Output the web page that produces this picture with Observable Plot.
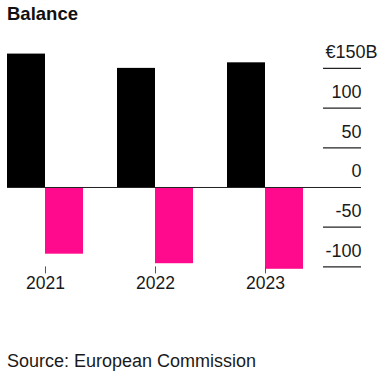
<!DOCTYPE html>
<html>
<head>
<meta charset="utf-8">
<script src="https://cdn.jsdelivr.net/npm/d3@7"></script>
<script src="https://cdn.jsdelivr.net/npm/@observablehq/plot@0.6"></script>
<style>
  html, body { margin: 0; padding: 0; background: #fff; }
  body { width: 384px; height: 376px; position: relative; overflow: hidden;
         font-family: "Liberation Sans", Arial, Helvetica, sans-serif; color: #1a1a1a; }
  #title { position: absolute; left: 7px; top: 0; font-size: 18.5px; font-weight: 700;
           line-height: 24px; padding-top: 2px; color: #111; }
  #chart { position: absolute; left: 0; top: 30px; }
  #source { position: absolute; left: 7px; top: 351px; font-size: 18px; line-height: 20px; color: #1a1a1a; }
</style>
</head>
<body>
<div id="title">Balance</div>
<div id="chart"></div>
<div id="source">Source: European Commission</div>
<script>
const years = ["2021", "2022", "2023"];
const positive = [168, 150, 157];
const negative = [-84, -96, -103];
const yTicks = [-100, -50, 0, 50, 100, 150];

const posData = years.map((y, i) => ({year: y, value: positive[i]}));
const negData = years.map((y, i) => ({year: y, value: negative[i]}));

const chart = Plot.plot({
  width: 384,
  height: 300,
  marginTop: 22,
  marginBottom: 63.6,
  marginLeft: 7,
  marginRight: 23,
  style: {fontFamily: '"Liberation Sans", Arial, Helvetica, sans-serif', background: "transparent"},
  x: {type: "band", domain: years, paddingInner: 0.30909, paddingOuter: 0.26364, align: 0, round: false, label: null},
  y: {domain: [-100, 170], axis: null},
  marks: [
    Plot.barY(posData, {x: "year", y: "value", fill: "#000000", insetLeft: 0, insetRight: 38}),
    Plot.barY(negData, {x: "year", y: "value", fill: "#ff0a8c", insetLeft: 38, insetRight: 0}),
    Plot.ruleY(yTicks.filter(d => d !== 0), {stroke: "#222", strokeWidth: 1.2, insetLeft: 316}),
    Plot.ruleY([0], {stroke: "#222", strokeWidth: 1}),
    Plot.text(yTicks.filter(d => d !== 150), {y: d => d, text: d => String(d), frameAnchor: "right", textAnchor: "end", dy: -16, fontSize: 18, fill: "#1a1a1a"}),
    Plot.text(yTicks.filter(d => d === 150), {y: d => d, text: d => "€" + d + "B", frameAnchor: "right", textAnchor: "end", dx: 16, dy: -16, fontSize: 18, fill: "#1a1a1a"}),
    Plot.axisX({tickSize: 7, tickPadding: 3, fontSize: 17.5, stroke: "#555", fill: "#1a1a1a", label: null})
  ]
});
document.getElementById("chart").appendChild(chart);
</script>
</body>
</html>
